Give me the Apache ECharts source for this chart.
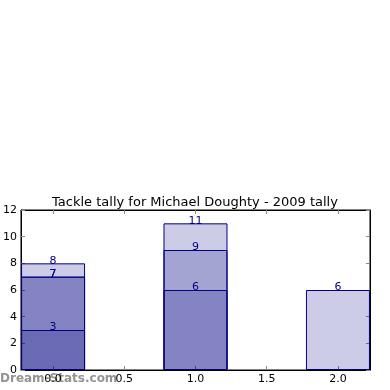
<!DOCTYPE html>
<html><head><meta charset="utf-8">
<script src="https://cdn.jsdelivr.net/npm/echarts@6/dist/echarts.min.js"></script>
<style>html,body{margin:0;padding:0;background:#fff}#c{width:390px;height:390px}</style>
</head><body><div id="c"></div>
<script>
const positions = [0, 1, 2];
const layer1 = [8, 11, 6];
const layer2 = [7, 9, null];
const layer3 = [7, 6, null];
const layer4 = [3, null, null];
const xTicks = [0, 0.5, 1, 1.5, 2];
const title = 'Tackle tally for Michael Doughty - 2009 tally';

const chart = echarts.init(document.getElementById('c'), null, {renderer: 'canvas'});
const font = 'DejaVu Sans';
function mk(vals) {
  return {
    type: 'bar',
    data: positions.map((p, i) => vals[i] == null ? null : [p, vals[i]]).filter(d => d),
    barWidth: 64,
    barGap: '-100%',
    itemStyle: {color: 'rgba(0,0,128,0.2)', borderColor: '#000080', borderWidth: 1},
    label: {show: true, position: 'top', distance: -3, color: '#000080', fontFamily: font, fontSize: 11},
    silent: true, animation: false
  };
}
chart.setOption({
  animation: false,
  title: {text: title, left: 'center', top: 191, textStyle: {fontFamily: font, fontSize: 13, fontWeight: 'normal', color: '#000'}},
  grid: {left: 19, right: 20, top: 210, bottom: 20, show: true, borderColor: '#000', borderWidth: 1},
  xAxis: [{
    type: 'value', min: -0.225, max: 2.225,
    axisLine: {show: true, onZero: false, lineStyle: {color: '#000'}},
    axisTick: {show: true, inside: true, length: 4, customValues: xTicks, lineStyle: {color: '#888'}},
    axisLabel: {customValues: xTicks, formatter: v => v.toFixed(1), fontFamily: font, fontSize: 11, color: '#000', margin: 4},
    splitLine: {show: false}
  }, {
    type: 'value', position: 'top', min: -0.225, max: 2.225,
    axisLine: {show: true, onZero: false, lineStyle: {color: '#000'}},
    axisTick: {show: true, inside: true, length: 4, customValues: xTicks, lineStyle: {color: '#888'}},
    axisLabel: {show: false}, splitLine: {show: false}
  }],
  yAxis: [{
    type: 'value', min: 0, max: 12, interval: 2,
    axisLine: {show: true, onZero: false, lineStyle: {color: '#000'}},
    axisTick: {show: true, inside: true, length: 4, lineStyle: {color: '#888'}},
    axisLabel: {fontFamily: font, fontSize: 11, color: '#000', margin: 4},
    splitLine: {show: false}
  }, {
    type: 'value', position: 'right', min: 0, max: 12, interval: 2,
    axisLine: {show: true, onZero: false, lineStyle: {color: '#000'}},
    axisTick: {show: true, inside: true, length: 4, lineStyle: {color: '#888'}},
    axisLabel: {show: false}, splitLine: {show: false}
  }],
  series: [mk(layer1), mk(layer2), mk(layer3), mk(layer4)],
  graphic: [{
    type: 'text', left: 0, top: 373,
    style: {text: 'Dream-Stats.com', fontFamily: font, fontSize: 12, fontWeight: 'bold', fill: 'rgba(128,128,128,0.85)'}
  }]
});
</script></body></html>
